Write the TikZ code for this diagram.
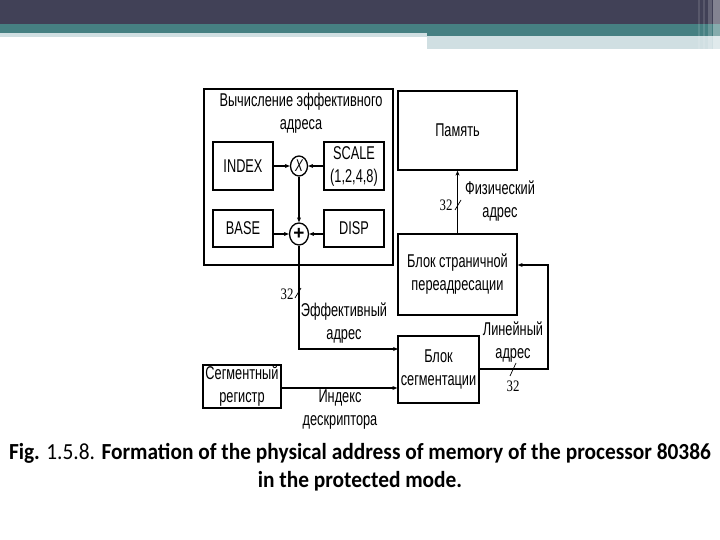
\documentclass[tikz,border=0pt]{standalone}
\usepackage{fontspec}
\setmainfont{Liberation Sans}
\newfontfamily\narrow[FakeStretch=0.69]{Liberation Sans}
\newfontfamily\capfont{Carlito}
\newfontfamily\numfont[FakeStretch=0.8]{Liberation Serif}
\usetikzlibrary{arrows.meta,shapes.geometric}
\definecolor{topdark}{HTML}{414157}
\definecolor{topteal}{HTML}{468082}
\definecolor{toplight}{HTML}{D0DFE2}
\tikzset{
  box/.style={draw, line width=1.3pt, inner sep=0pt, align=center, font=\narrow\fontsize{18.5}{23}\selectfont},
  outerbox/.style={draw, line width=1.8pt, inner sep=0pt},
  lbl/.style={inner sep=0pt, align=center, font=\narrow\fontsize{18.5}{23}\selectfont},
  op/.style={draw, line width=1.3pt, ellipse, inner sep=0pt, minimum width=17pt, minimum height=20pt, font=\narrow\fontsize{17}{17}\selectfont},
  arr/.style={line width=1.3pt, -{Stealth[length=5pt,width=4pt]}},
  tick/.style={line width=0.7pt},
  num/.style={inner sep=0pt, font=\numfont\fontsize{16}{16}\selectfont},
}
\begin{document}
\begin{tikzpicture}[x=1pt,y=-1pt]
\useasboundingbox (0,0) rectangle (720,540);
% header bars
\fill[white] (0,0) rectangle (720,540);
\fill[topdark] (0,0) rectangle (720,24);
\fill[topteal] (0,24) rectangle (720,33);
\fill[topteal] (427,33) rectangle (720,36);
\fill[toplight] (0,33) rectangle (427,37);
\fill[toplight] (427,36) rectangle (720,49);
\fill[white, opacity=0.12] (698,0) rectangle (700,49);
\fill[white, opacity=0.12] (703,0) rectangle (705,49);
\fill[white, opacity=0.18] (708,0) rectangle (712,49);
\fill[white, opacity=0.35] (713,0) rectangle (720,49);

% effective address calculation block
\node[outerbox, minimum width=189pt, minimum height=176pt] (calc) at (298.5,177) {};
\node[lbl] (calct) at (301,113) {Вычисление эффективного\\адреса};
\node[box, minimum width=60pt, minimum height=48pt] (index) at (243,166) {INDEX};
\node[box, minimum width=60pt, minimum height=48pt] (scale) at (354,166) {SCALE\\(1,2,4,8)};
\node[box, minimum width=60pt, minimum height=37pt] (base) at (243,228.5) {BASE};
\node[box, minimum width=60pt, minimum height=37pt] (disp) at (354,228.5) {DISP};
\node[op] (mul) at (299,166) {\raisebox{1pt}{\itshape X}};
\node[op, minimum width=19pt, minimum height=22pt, font=\fontsize{19}{19}\selectfont\bfseries] (add) at (299,234) {+};

% right column
\node[box, minimum width=119pt, minimum height=79pt] (mem) at (457.5,130.5) {Память};
\node[box, minimum width=119pt, minimum height=81pt] (page) at (457.5,274.5) {Блок страничной\\переадресации};
\node[box, minimum width=81pt, minimum height=67pt] (seg) at (438.5,369.5) {Блок\\сегментации};
\node[box, minimum width=78pt, minimum height=43pt] (sreg) at (242,386.5) {Сегментный\\регистр};

% connectors
\draw[arr] (index.east) -- (mul.west);
\draw[arr] (scale.west) -- (mul.east);
\draw[arr] (mul.south) -- (add.north);
\draw[arr] (base.east |- add) -- (add.west);
\draw[arr, line width=2.4pt] (disp.west |- add) -- (add.east);
\coordinate (effin) at (398,349);
\draw[arr] (add.south) |- (effin);
\draw[arr] (sreg.east |- 0,388) -- (seg.west |- 0,388);
\coordinate (lin) at (548,369);
\draw[arr] (seg.east |- lin) -- (lin) |- (page.east |- 0,265);
\draw[arr] (page.north) -- (mem.south);

% bus width marks
\draw[tick] (295,298) -- (301,288);
\node[num] (n1) at (287,294) {32};
\draw[tick] (455,210) -- (461,200);
\node[num] (n2) at (446,205) {32};
\draw[tick] (510,376) -- (516,363);
\node[num] (n3) at (513,386) {32};

% line labels
\node[lbl] (eff) at (344,323) {Эффективный\\адрес};
\node[lbl] (phys) at (500,201) {Физический\\адрес};
\node[lbl] (linl) at (513,342) {Линейный\\адрес};
\node[lbl] (desc) at (340,410) {Индекс\\дескриптора};

% caption
\node[inner sep=0pt, align=center, font=\capfont\fontsize{23}{28}\selectfont] (cap) at (360,467)
  {\scalebox{0.93}[1]{\bfseries Fig. {\mdseries 1.5.8.} Formation of the physical address of memory of the processor 80386}\\
   \scalebox{0.93}[1]{\bfseries in the protected mode.}};
\end{tikzpicture}
\end{document}
